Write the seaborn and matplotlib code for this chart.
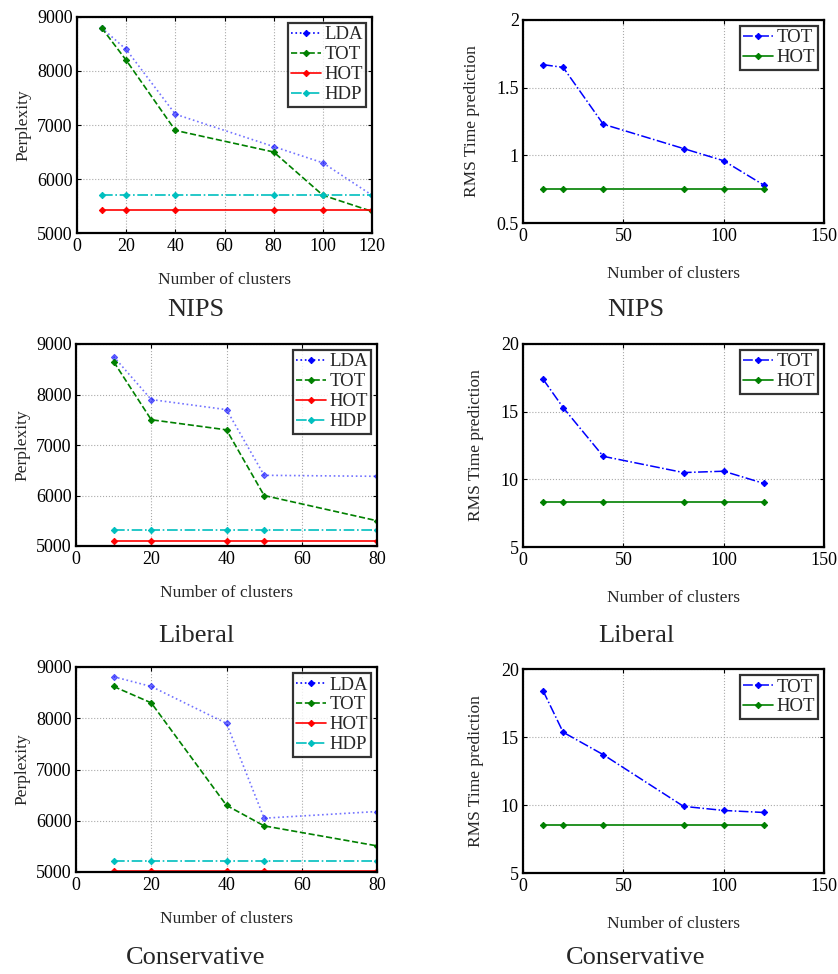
import matplotlib
matplotlib.use("Agg")
import matplotlib.pyplot as plt
import seaborn as sns
import pandas as pd

sns.set_theme(style="white")
plt.rcParams['font.family'] = ['Liberation Serif', 'DejaVu Serif']
plt.rcParams['mathtext.fontset'] = 'stix'

# ---------------- data ----------------
nips_clusters = [10, 20, 40, 80, 100, 120]
nips_lda = [8800, 8400, 7200, 6600, 6300, 5700]
nips_tot = [8800, 8200, 6900, 6500, 5700, 5400]
nips_hot = [5420, 5420, 5420, 5420, 5420, 5420]
nips_hdp = [5710, 5710, 5710, 5710, 5710, 5710]

lib_clusters = [10, 20, 40, 50, 80]
lib_lda = [8750, 7900, 7700, 6400, 6380]
lib_tot = [8650, 7500, 7300, 6000, 5500]
lib_hot = [5100, 5100, 5100, 5100, 5100]
lib_hdp = [5320, 5320, 5320, 5320, 5320]

con_clusters = [10, 20, 40, 50, 80]
con_lda = [8810, 8620, 7900, 6050, 6180]
con_tot = [8620, 8300, 6300, 5900, 5510]
con_hot = [5010, 5010, 5010, 5010, 5010]
con_hdp = [5220, 5220, 5220, 5220, 5220]

rms_clusters = [10, 20, 40, 80, 100, 120]
nips_rms_tot = [1.67, 1.65, 1.23, 1.05, 0.96, 0.78]
nips_rms_hot = [0.75, 0.75, 0.75, 0.75, 0.75, 0.75]
lib_rms_tot = [17.4, 15.3, 11.7, 10.5, 10.6, 9.7]
lib_rms_hot = [8.3, 8.3, 8.3, 8.3, 8.3, 8.3]
con_rms_tot = [18.4, 15.35, 13.7, 9.9, 9.6, 9.45]
con_rms_hot = [8.55, 8.55, 8.55, 8.55, 8.55, 8.55]

titles = ["NIPS", "Liberal", "Conservative"]

# ---------------- figure ----------------
W, H = 838, 974
fig = plt.figure(figsize=(W / 100, H / 100), dpi=100)

def rect(l, r, t, b):
    return [l / W, 1 - b / H, (r - l) / W, (b - t) / H]

left_rects = [rect(77, 372, 17, 233), rect(76, 377, 344, 546), rect(76, 377, 667, 872)]
right_rects = [rect(523, 824, 20, 223), rect(523, 824, 344, 547), rect(523, 824, 669, 873)]

BLUE = '#0000ff'
GREEN = '#008000'
RED = '#ff0000'
CYAN = '#00bfbf'

TICK_FS = 13
LABEL_FS = 12.5
LEG_FS = 13.5
TITLE_FS = 19

def style_axes(ax):
    for s in ax.spines.values():
        s.set_color('black')
        s.set_linewidth(1.6)
    ax.grid(True, linestyle=':', color='#aaaaaa', linewidth=0.8)
    ax.tick_params(direction='in', length=3, width=0.8, labelsize=TICK_FS,
                   colors='black', top=True, right=True,
                   bottom=True, left=True)
    ax.tick_params(axis='x', pad=3.5)
    ax.tick_params(axis='y', pad=3)
    ax.set_facecolor('white')

def leg(ax):
    lg = ax.legend(loc='upper right', fontsize=LEG_FS, frameon=True, fancybox=False,
                   borderpad=0.2, labelspacing=0.15, handlelength=1.6,
                   handletextpad=0.15, borderaxespad=0.3)
    lg.get_frame().set_edgecolor('black')
    lg.get_frame().set_linewidth(1.6)

def line(ax, x, y, color, ls, label, alpha=1.0, lw=1.1):
    df = pd.DataFrame({'x': x, 'y': y})
    sns.lineplot(data=df, x='x', y='y', ax=ax, color=color, linestyle=ls,
                 marker='D', markersize=3.2, markeredgecolor=color,
                 linewidth=lw, label=label, alpha=alpha)

left_data = [
    (nips_clusters, nips_lda, nips_tot, nips_hot, nips_hdp, [0, 20, 40, 60, 80, 100, 120], (0, 120)),
    (lib_clusters, lib_lda, lib_tot, lib_hot, lib_hdp, [0, 20, 40, 60, 80], (0, 80)),
    (con_clusters, con_lda, con_tot, con_hot, con_hdp, [0, 20, 40, 60, 80], (0, 80)),
]
right_data = [
    (nips_rms_tot, nips_rms_hot, (0.5, 2), [0.5, 1, 1.5, 2], ['0.5', '1', '1.5', '2']),
    (lib_rms_tot, lib_rms_hot, (5, 20), [5, 10, 15, 20], ['5', '10', '15', '20']),
    (con_rms_tot, con_rms_hot, (5, 20), [5, 10, 15, 20], ['5', '10', '15', '20']),
]

title_y = [310, 636, 958]

for i in range(3):
    ax = fig.add_axes(left_rects[i])
    cl, lda, tot, hot, hdp, xt, xl = left_data[i]
    line(ax, cl, lda, BLUE, ':', 'LDA', alpha=0.55, lw=1.2)
    line(ax, cl, tot, GREEN, '--', 'TOT', lw=1.2)
    line(ax, cl, hot, RED, '-', 'HOT', lw=1.2)
    line(ax, cl, hdp, CYAN, '-.', 'HDP', lw=1.2)
    ax.set_xlim(*xl)
    ax.set_xticks(xt)
    ax.set_ylim(5000, 9000)
    ax.set_yticks([5000, 6000, 7000, 8000, 9000])
    style_axes(ax)
    ax.set_xlabel('Number of clusters', fontsize=LABEL_FS, labelpad=12)
    ax.set_ylabel('Perplexity', fontsize=LABEL_FS, labelpad=4)
    leg(ax)
    for lh in ax.get_legend().get_lines():
        lh.set_alpha(1.0)
    fig.text(196 / W, 1 - title_y[i] / H, titles[i], ha='center', va='center',
             fontsize=TITLE_FS)

for i in range(3):
    ax = fig.add_axes(right_rects[i])
    tot, hot, yl, yt, ytl = right_data[i]
    line(ax, rms_clusters, tot, BLUE, '-.', 'TOT', lw=1.1)
    line(ax, rms_clusters, hot, GREEN, '-', 'HOT', lw=1.2)
    ax.set_xlim(0, 150)
    ax.set_xticks([0, 50, 100, 150])
    ax.set_ylim(*yl)
    ax.set_yticks(yt)
    ax.set_yticklabels(ytl)
    style_axes(ax)
    ax.set_xlabel('Number of clusters', fontsize=LABEL_FS, labelpad=15)
    ax.set_ylabel('RMS Time prediction', fontsize=LABEL_FS, labelpad=12)
    leg(ax)
    fig.text(636 / W, 1 - title_y[i] / H, titles[i], ha='center', va='center',
             fontsize=TITLE_FS)

fig.savefig('out.png', dpi=100, facecolor='white')
